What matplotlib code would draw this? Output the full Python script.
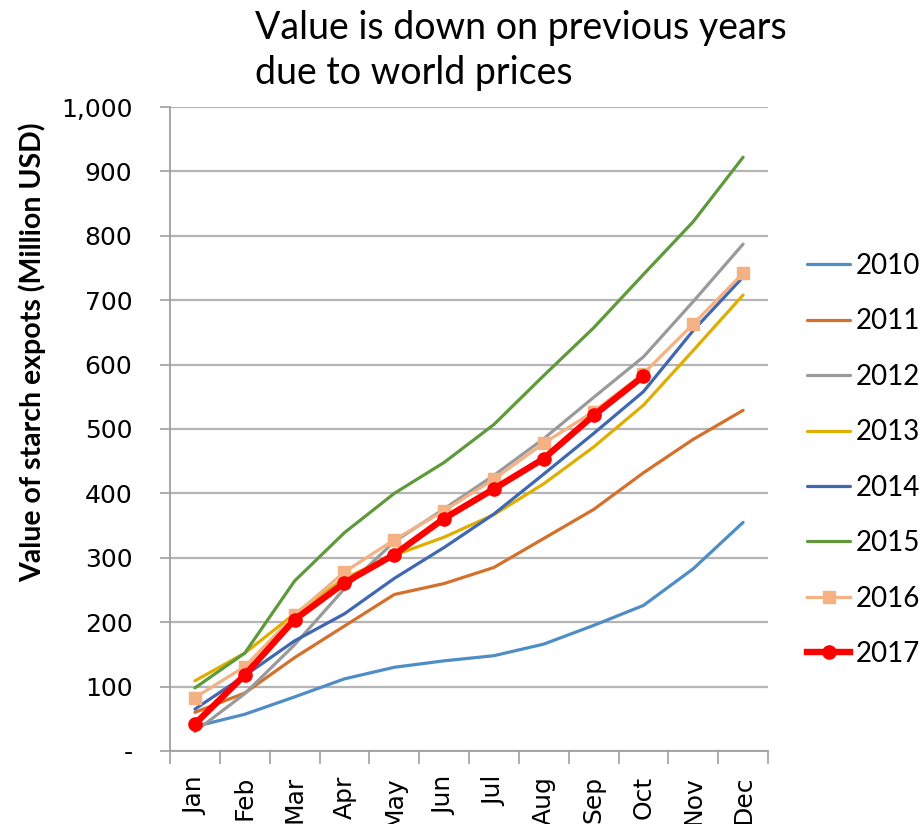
import matplotlib.pyplot as plt
import numpy as np

months = ['Jan', 'Feb', 'Mar', 'Apr', 'May', 'Jun', 'Jul', 'Aug', 'Sep', 'Oct', 'Nov', 'Dec']
years = ['2010', '2011', '2012', '2013', '2014', '2015', '2016', '2017']

v2010 = [38, 57, 84, 112, 130, 140, 148, 166, 195, 226, 283, 355]
v2011 = [60, 90, 145, 194, 243, 260, 285, 330, 375, 432, 484, 529]
v2012 = [30, 89, 165, 252, 325, 376, 428, 485, 549, 612, 698, 787]
v2013 = [109, 152, 213, 268, 304, 332, 367, 415, 472, 537, 622, 708]
v2014 = [65, 117, 171, 213, 268, 316, 368, 430, 493, 558, 653, 736]
v2015 = [98, 152, 264, 339, 400, 448, 507, 583, 657, 740, 822, 922]
v2016 = [83, 131, 211, 278, 328, 373, 422, 478, 527, 586, 663, 742]
v2017 = [42, 118, 204, 261, 305, 361, 407, 454, 521, 582]

colors = ['#4E8DC6', '#D4702B', '#9A9A9A', '#E0AE00', '#3F67B2', '#5E9A3C', '#F4B183', '#FF0000']

fig = plt.figure(figsize=(9.24, 8.24), dpi=100)
ax = fig.add_axes([170 / 924, 1 - 751 / 824, 598 / 924, 644 / 824])

x = np.arange(len(months))
series = [v2010, v2011, v2012, v2013, v2014, v2015, v2016]
for yr, vals, c in zip(years[:6], series[:6], colors[:6]):
    ax.plot(x[:len(vals)], vals, color=c, lw=2.3, label=yr, solid_capstyle='round')
ax.plot(x, v2016, color=colors[6], lw=2.3, marker='s', markersize=9, label='2016')
ax.plot(x[:len(v2017)], v2017, color=colors[7], lw=4.6, marker='o', markersize=9.5, label='2017')

# axes
ax.set_xlim(-0.5, 11.5)
ax.set_ylim(0, 1000)
ax.set_yticks(range(0, 1001, 100))
ax.set_yticklabels(['-' if v == 0 else f'{v:,}' for v in range(0, 1001, 100)],
                   fontsize=18, family='DejaVu Sans')
ax.set_xticks(x)
ax.set_xticklabels(months, rotation=90, fontsize=18, family='DejaVu Sans')
ax.set_xticks(np.arange(-0.5, 12, 1), minor=True)
ax.tick_params(axis='x', which='major', length=0, pad=18)
ax.tick_params(axis='x', which='minor', length=9, width=1.2, color='#A0A0A0', direction='out')
ax.tick_params(axis='y', length=7, width=1.2, color='#A0A0A0', pad=20)

ax.grid(axis='y', color='#B5B5B5', lw=1.6)
ax.set_axisbelow(True)
for s in ['top', 'right']:
    ax.spines[s].set_visible(False)
for s in ['left', 'bottom']:
    ax.spines[s].set_color('#A0A0A0')
    ax.spines[s].set_linewidth(1.3)

fig.text(32 / 924, 1 - 352 / 824, 'Value of starch expots (Million USD)', rotation=90,
         ha='center', va='center', fontsize=20.5, fontweight='bold', family='Lato')

fig.text(255 / 924, 1 - 10 / 824, 'Value is down on previous years\ndue to world prices',
         ha='left', va='top', fontsize=27, family='Lato', linespacing=1.32)

ax.legend(loc='center left', bbox_to_anchor=(807 / 924, 1 - 460 / 824),
          bbox_transform=fig.transFigure, frameon=False, prop={'family': 'Lato', 'size': 20},
          handlelength=1.55, handletextpad=0.2, labelspacing=1.06, borderpad=0, borderaxespad=0)

plt.savefig('out.png', dpi=100)
